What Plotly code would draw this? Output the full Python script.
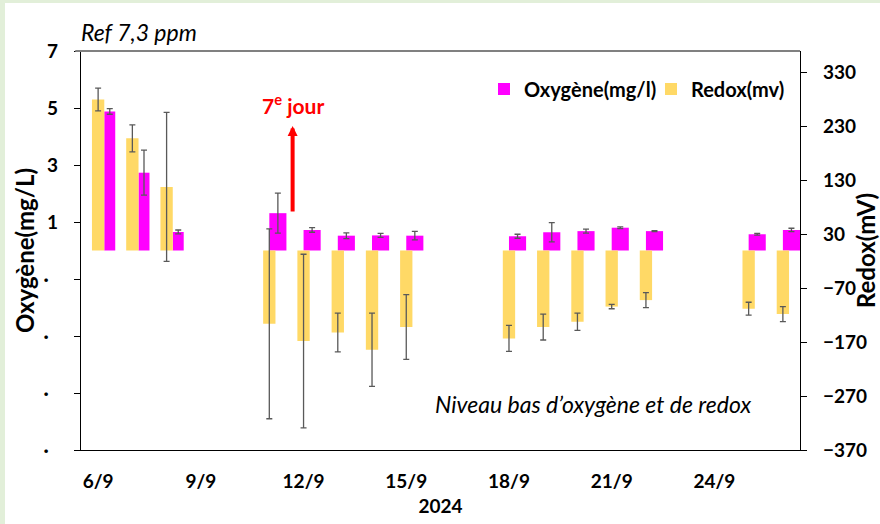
import plotly.graph_objects as go

# ---- données ----
dates = ["2024-09-06", "2024-09-07", "2024-09-08", "2024-09-11", "2024-09-12",
         "2024-09-13", "2024-09-14", "2024-09-15", "2024-09-18", "2024-09-19",
         "2024-09-20", "2024-09-21", "2024-09-22", "2024-09-25", "2024-09-26"]

oxygene = [4.88, 2.73, 0.65, 1.31, 0.72, 0.52, 0.53, 0.52, 0.50, 0.64, 0.68, 0.80, 0.68, 0.57, 0.72]
oxygene_err = [0.10, 0.79, 0.07, 0.70, 0.08, 0.10, 0.07, 0.15, 0.07, 0.34, 0.07, 0.03, 0.02, 0.03, 0.06]

redox = [280, 208, 118, -136, -168, -152, -184, -142, -163, -142, -132, -104, -92, -108, -118]
redox_err = [21, 25, 138, 176, 161, 36, 68, 60, 24, 24, 16, 4, 14, 12, 14]

left_ticks = [-7, -5, -3, -1, 1, 3, 5, 7]
left_ticktext = ["·\u00a0\u00a0" if v < 0 else str(v) for v in left_ticks]
right_ticks = [-370, -270, -170, -70, 30, 130, 230, 330]

DAY = 86400000
FONT = "Lato"
MAGENTA = "#ff00ff"
JAUNE = "#ffd966"
GRIS = "#595959"

# les trois premières barres d'oxygène sont plus étroites et décalées
ox_width = [0.32 * DAY if d < "2024-09-10" else 0.5 * DAY for d in dates]
ox_offset = [0.18 * DAY if d < "2024-09-10" else 0 for d in dates]

fig = go.Figure()

fig.add_trace(go.Bar(
    x=dates, y=oxygene, name="Oxygène(mg/l)",
    marker_color=MAGENTA, marker_line_width=0,
    width=ox_width, offset=ox_offset,
    error_y=dict(type="data", array=oxygene_err, color=GRIS, thickness=1.3, width=3),
    yaxis="y",
))
fig.add_trace(go.Bar(
    x=dates, y=redox, name="Redox(mv)",
    marker_color=JAUNE, marker_line_width=0,
    width=0.36 * DAY, offset=-0.18 * DAY,
    error_y=dict(type="data", array=redox_err, color=GRIS, thickness=1.3, width=3),
    yaxis="y2",
))

tick_font = dict(family=FONT, size=19, color="black", weight="bold")

fig.update_layout(
    width=880, height=524, autosize=False,
    margin=dict(l=81, r=80, t=51, b=74, autoexpand=False),
    paper_bgcolor="#e2efd9", plot_bgcolor="white",
    barmode="overlay",
    font=dict(family=FONT, color="black"),
    xaxis=dict(
        type="date", range=["2024-09-05 12:00", "2024-09-26 12:00"],
        tick0="2024-09-06", dtick=3 * DAY, tickformat="%-d/%-m",
        ticks="", ticklabelstandoff=14, tickfont=tick_font, automargin=False,
        showline=True, linecolor="black", linewidth=1.3, showgrid=False, zeroline=False,
        title=dict(text="2024", font=dict(family=FONT, size=19, weight="bold"), standoff=8),
    ),
    # axe des abscisses croisant à zéro : trait + graduations entre catégories
    xaxis2=dict(
        type="date", overlaying="x", matches="x", anchor="free", position=0.5,
        tick0="2024-09-05 12:00", dtick=3 * DAY, ticks="outside", ticklen=6,
        tickcolor="#404040", tickwidth=1.3, showticklabels=False, automargin=False,
        showline=True, linecolor="#404040", linewidth=1.3, showgrid=False, zeroline=False,
    ),
    yaxis=dict(
        range=[-7, 7], tickvals=left_ticks, ticktext=left_ticktext,
        ticks="outside", ticklen=6, tickcolor="black", ticklabelstandoff=12,
        tickfont=tick_font, showline=True, linecolor="black", linewidth=1.3,
        showgrid=False, zeroline=False, automargin=False,
        title=dict(text="Oxygène(mg/L)", font=dict(family=FONT, size=24, weight="bold"), standoff=2),
    ),
    yaxis2=dict(
        range=[-370, 370], tickvals=right_ticks, overlaying="y", side="right",
        ticks="outside", ticklen=6, tickcolor="black", ticklabelstandoff=12,
        tickfont=tick_font, showline=True, linecolor="black", linewidth=1.3,
        showgrid=False, zeroline=False, automargin=False,
        title=dict(text="Redox(mV)", font=dict(family=FONT, size=24, weight="bold"), standoff=11),
    ),
    legend=dict(
        orientation="h", x=0.5605, xanchor="left", y=0.905, yanchor="middle",
        bgcolor="rgba(0,0,0,0)", font=dict(family=FONT, size=20, weight="bold"),
        itemwidth=30, entrywidth=122, traceorder="normal",
    ),
    shapes=[
        # cadre blanc sur fond vert
        dict(type="rect", xref="paper", yref="paper", x0=-0.1057, x1=2, y0=-0.5, y1=1.1203,
             fillcolor="white", line_width=0, layer="below"),
        # trait gris du haut
        dict(type="line", xref="paper", yref="paper", x0=-0.008, x1=1, y0=1, y1=1,
             line=dict(color="#808080", width=2)),
    ],
    annotations=[
        dict(text="<i>Ref 7,3 ppm</i>", xref="paper", yref="paper", x=-0.003, y=1.048,
             xanchor="left", yanchor="middle", showarrow=False,
             font=dict(family=FONT, size=23)),
        dict(text="<i>Niveau bas d’oxygène et de redox</i>", xref="paper", yref="paper",
             x=0.9346, y=0.1153, xanchor="right", yanchor="middle", showarrow=False,
             font=dict(family=FONT, size=23)),
        dict(text="7<sup>e</sup> jour", x="2024-09-11 16:20", y=5.14, xref="x", yref="y",
             showarrow=False, xanchor="center", yanchor="middle",
             font=dict(family=FONT, size=21, color="#ff0000", weight="bold")),
        dict(text="", x="2024-09-11 16:20", y=4.37, xref="x", yref="y",
             ax="2024-09-11 16:20", ay=1.32, axref="x", ayref="y",
             showarrow=True, arrowhead=2, arrowsize=0.5, arrowwidth=4, arrowcolor="#ff0000",
             standoff=0),
    ],
)

fig.write_html(
    "out.html",
    config={"responsive": False, "displayModeBar": False},
    post_script="document.body.style.margin='0';",
)
